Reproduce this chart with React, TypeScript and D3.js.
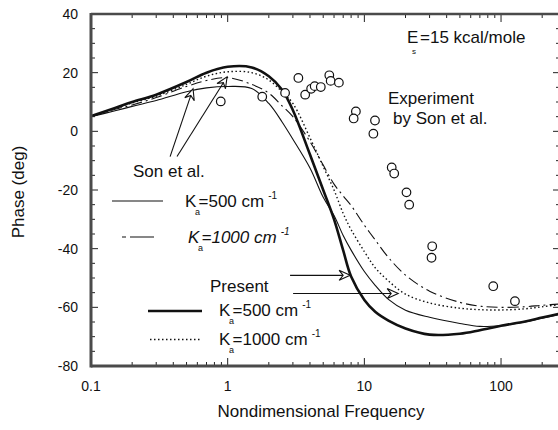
import React from 'react';
import * as d3 from 'd3';

const FREQ = [0.1, 0.15, 0.2, 0.3, 0.5, 0.7, 1, 1.5, 2, 2.5, 3, 4, 5, 6, 7, 8, 10, 12, 15, 20, 30, 50, 70, 100, 150, 200, 280];
const PRESENT_500 = [5.2, 8, 10, 12.5, 16.8, 20, 22, 21.8, 18.8, 14.2, 7.2, -7.9, -20, -30, -40.6, -49.5, -57.5, -61.5, -64.5, -67.2, -69.3, -69, -67.8, -66.3, -64.8, -63.5, -62];
const PRESENT_1000 = [5, 7.8, 9.7, 12, 16, 18.8, 20.3, 20, 17.5, 13.5, 9.5, -2.2, -12, -20, -28, -33.5, -41, -46.5, -51, -55.5, -58.5, -60.3, -60.8, -60.9, -60.5, -59.8, -59];
const SON_500 = [5, 7, 8.5, 10.5, 13.5, 14.8, 15.3, 14.6, 9.5, 3.2, -2.7, -12.5, -22.5, -28.7, -35.5, -40.5, -47.8, -52.5, -57.3, -61, -63.4, -65.5, -66.5, -66.2, -65, -63.7, -62.2];
const SON_1000 = [5, 7.5, 9, 11.5, 15.3, 17.3, 18.3, 16, 13, 8.7, 5, -3.5, -11.5, -18, -22, -25.3, -32, -37, -43, -49, -54.5, -58.3, -59.6, -60, -59.8, -59.3, -58.8];

const EXP_FREQ = [0.89, 1.79, 2.63, 3.29, 3.69, 4.08, 4.33, 4.8, 5.54, 5.67, 6.51, 8.67, 8.35, 11.96, 11.64, 15.85, 16.53, 20.33, 21.28, 31.36, 31.0, 87.7, 126.4];
const EXP_PHASE = [10.2, 11.8, 13.1, 18.2, 12.5, 14.5, 15.4, 15.1, 19.1, 17.2, 16.6, 6.8, 4.4, 3.7, -0.8, -12.3, -14.4, -20.8, -25.0, -39.2, -43.1, -52.8, -57.9];

const Y_TICKS = [-80, -60, -40, -20, 0, 20, 40];
const X_TICKS = [0.1, 1, 10, 100];
const X_TICK_LABELS = ['0.1', '1', '10', '100'];

const SON_ARROWS = [
  { from: [0.379, -8.6], to: [0.558, 14.5] },
  { from: [0.426, -8.6], to: [0.99, 18.6] },
];
const PRESENT_ARROWS = [
  { from: [2.86, -49.1], to: [7.87, -49.1] },
  { from: [3.01, -55.3], to: [17.68, -55.3] },
];

const W = 558;
const H = 430;
const L = 91;
const R = 560;
const T = 14;
const B = 366;
const XMAX = 270;

const FONT = 'Liberation Sans, Arial, Helvetica, sans-serif';

function Arrow({ x1, y1, x2, y2 }: { x1: number; y1: number; x2: number; y2: number }) {
  const dx = x2 - x1;
  const dy = y2 - y1;
  const len = Math.sqrt(dx * dx + dy * dy);
  const ux = dx / len;
  const uy = dy / len;
  const px = -uy;
  const py = ux;
  const hl = 11;
  const hw = 5;
  const bl = [x2 - ux * hl + px * hw, y2 - uy * hl + py * hw];
  const br = [x2 - ux * hl - px * hw, y2 - uy * hl - py * hw];
  const notch = [x2 - ux * (hl - 4), y2 - uy * (hl - 4)];
  return (
    <g stroke="#111" fill="none" strokeWidth={1.1}>
      <line x1={x1} y1={y1} x2={notch[0]} y2={notch[1]} />
      <path d={`M${bl[0]},${bl[1]} L${x2},${y2} L${br[0]},${br[1]} L${notch[0]},${notch[1]} Z`} fill="#fff" />
    </g>
  );
}

function KLabel({ x, y, value, italic }: { x: number; y: number; value: string; italic?: boolean }) {
  return (
    <g fontFamily={FONT} fill="#111">
      <text x={x} y={y} fontSize={17} fontStyle={italic ? 'italic' : 'normal'}>K</text>
      <text x={x + 10} y={y + 8} fontSize={9}>a</text>
      <text x={x + 13.5} y={y} fontSize={17} fontStyle={italic ? 'italic' : 'normal'}>
        {`=${value} cm`}
        <tspan fontSize={10} dx={4} dy={-8}>-1</tspan>
      </text>
    </g>
  );
}

export default function App() {
  const x = d3.scaleLog().domain([0.1, XMAX]).range([L, R]);
  const y = d3.scaleLinear().domain([-80, 40]).range([B, T]);

  const line = d3
    .line<number>()
    .x((_, i) => x(FREQ[i]))
    .y((d) => y(d))
    .curve(d3.curveCatmullRom.alpha(0.5));

  const minorX: number[] = [];
  for (let dec = 0.1; dec < 1000; dec *= 10) {
    for (let m = 2; m <= 9; m++) {
      const v = dec * m;
      if (v < XMAX) minorX.push(v);
    }
  }
  const minorY: number[] = [];
  for (let v = -80; v <= 40; v += 5) if (v % 20 !== 0) minorY.push(v);

  const frameColor = '#4a4a4a';

  return (
    <svg width={W} height={H} style={{ position: 'absolute', left: 0, top: 0, background: '#fff' }}>
      <defs>
        <clipPath id="plot">
          <rect x={L} y={T} width={R - L} height={B - T} />
        </clipPath>
      </defs>

      {/* curves */}
      <g clipPath="url(#plot)" fill="none" stroke="#111">
        <path d={line(SON_500) || ''} strokeWidth={1.1} />
        <path d={line(SON_1000) || ''} strokeWidth={1.1} strokeDasharray="11,4,2,4" />
        <path d={line(PRESENT_1000) || ''} strokeWidth={1.4} strokeDasharray="1.5,2.5" />
        <path d={line(PRESENT_500) || ''} strokeWidth={2.6} />
      </g>

      {/* experiment circles */}
      <g fill="#fff" stroke="#111" strokeWidth={1.2}>
        {EXP_FREQ.map((f, i) => (
          <circle key={i} cx={x(f)} cy={y(EXP_PHASE[i])} r={4.3} />
        ))}
      </g>

      {/* ticks */}
      <g stroke="#222" strokeWidth={1}>
        {minorX.map((v) => (
          <g key={`mx${v}`}>
            <line x1={x(v)} x2={x(v)} y1={B} y2={B - 4} />
            <line x1={x(v)} x2={x(v)} y1={T} y2={T + 4} />
          </g>
        ))}
        {X_TICKS.map((v) => (
          <g key={`Mx${v}`}>
            <line x1={x(v)} x2={x(v)} y1={B} y2={B - 8} />
            <line x1={x(v)} x2={x(v)} y1={T} y2={T + 8} />
          </g>
        ))}
        {minorY.map((v) => (
          <g key={`my${v}`}>
            <line x1={L} x2={L + 4} y1={y(v)} y2={y(v)} />
            <line x1={R} x2={R - 4} y1={y(v)} y2={y(v)} />
          </g>
        ))}
        {Y_TICKS.map((v) => (
          <g key={`My${v}`}>
            <line x1={L} x2={L + 7} y1={y(v)} y2={y(v)} />
            <line x1={R} x2={R - 7} y1={y(v)} y2={y(v)} />
          </g>
        ))}
      </g>

      {/* frame */}
      <g stroke={frameColor} fill="none">
        <line x1={L} x2={R + 2} y1={T} y2={T} strokeWidth={2.5} />
        <line x1={L} x2={R + 2} y1={B} y2={B} strokeWidth={3} />
        <line x1={L} x2={L} y1={T - 1} y2={B + 1.5} strokeWidth={3} />
        <line x1={R} x2={R} y1={T} y2={B} strokeWidth={2.5} />
      </g>

      {/* tick labels */}
      <g fontFamily={FONT} fontSize={14} fill="#111">
        {Y_TICKS.map((v) => (
          <text key={`yl${v}`} x={78} y={y(v) + 5} textAnchor="end">{v}</text>
        ))}
        {X_TICKS.map((v, i) => (
          <text key={`xl${v}`} x={x(v)} y={391} textAnchor="middle">{X_TICK_LABELS[i]}</text>
        ))}
      </g>

      {/* axis titles */}
      <g fontFamily={FONT} fontSize={17} fill="#111">
        <text x={(L + 551) / 2} y={417} textAnchor="middle">Nondimensional Frequency</text>
        <text transform="translate(24,192) rotate(-90)" textAnchor="middle">Phase (deg)</text>
      </g>

      {/* annotations */}
      <g fontFamily={FONT} fontSize={17} fill="#111">
        <text x={407} y={43}>E</text>
        <text x={412} y={54} fontSize={8}>s</text>
        <text x={420} y={43}>=15 kcal/mole</text>
        <text x={388} y={104}>Experiment</text>
        <text x={393} y={124}>by Son et al.</text>
        <text x={133} y={177}>Son et al.</text>
        <text x={210} y={292}>Present</text>
      </g>

      {/* arrows */}
      {SON_ARROWS.concat(PRESENT_ARROWS).map((a, i) => (
        <Arrow key={i} x1={x(a.from[0])} y1={y(a.from[1])} x2={x(a.to[0])} y2={y(a.to[1])} />
      ))}

      {/* legend */}
      <g stroke="#111" fill="none">
        <line x1={112} x2={163} y1={201} y2={201} strokeWidth={1.1} />
        <line x1={122} x2={155} y1={237} y2={237} strokeWidth={1.1} strokeDasharray="4,4,20,0" />
        <line x1={148} x2={202} y1={311} y2={311} strokeWidth={2.6} />
        <line x1={150} x2={200} y1={339.5} y2={339.5} strokeWidth={1.4} strokeDasharray="1.5,2.5" />
      </g>
      <KLabel x={185} y={207} value="500" />
      <KLabel x={188} y={243} value="1000" italic />
      <KLabel x={219} y={316} value="500" />
      <KLabel x={219} y={345} value="1000" />
    </svg>
  );
}
